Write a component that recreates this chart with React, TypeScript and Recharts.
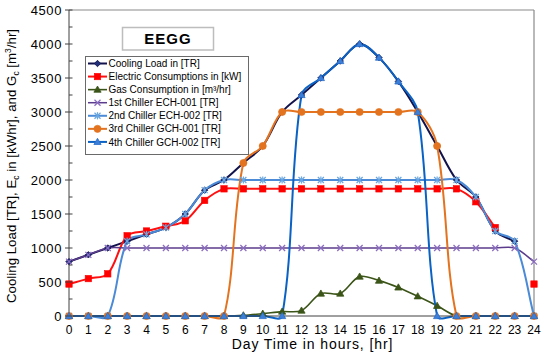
import { LineChart, Line, XAxis, YAxis, ReferenceLine } from 'recharts';

const HOURS = [0, 1, 2, 3, 4, 5, 6, 7, 8, 9, 10, 11, 12, 13, 14, 15, 16, 17, 18, 19, 20, 21, 22, 23, 24];
const COOLING_LOAD = [800, 900, 1000, 1100, 1200, 1300, 1500, 1850, 2000, 2250, 2500, 3000, 3250, 3500, 3750, 4000, 3800, 3450, 3000, 2500, 2000, 1750, 1250, 1100, null];
const ELECTRIC = [470, 550, 620, 1180, 1250, 1320, 1400, 1700, 1870, 1870, 1870, 1870, 1870, 1870, 1870, 1870, 1870, 1870, 1870, 1870, 1870, 1680, 1300, null, 470];
const GAS = [0, 0, 0, 0, 0, 0, 0, 0, 0, 10, 35, 65, 80, 330, 330, 580, 520, 420, 290, 150, 0, 0, 0, 0, 0];
const CHILLER_1 = [800, 900, 1000, 1000, 1000, 1000, 1000, 1000, 1000, 1000, 1000, 1000, 1000, 1000, 1000, 1000, 1000, 1000, 1000, 1000, 1000, 1000, 1000, 1000, 800];
const CHILLER_2 = [0, 0, 0, 1100, 1200, 1300, 1500, 1850, 2000, 2000, 2000, 2000, 2000, 2000, 2000, 2000, 2000, 2000, 2000, 2000, 2000, 1750, 1250, 1100, 0];
const CHILLER_3 = [0, 0, 0, 0, 0, 0, 0, 0, 0, 2250, 2500, 3000, 3000, 3000, 3000, 3000, 3000, 3000, 3000, 2500, 0, 0, 0, 0, 0];
const CHILLER_4 = [0, 0, 0, 0, 0, 0, 0, 0, 0, 0, 0, 0, 3250, 3500, 3750, 4000, 3800, 3450, 3000, 0, 0, 0, 0, 0, 0];
const Y_TICKS = [0, 250, 500, 750, 1000, 1250, 1500, 1750, 2000, 2250, 2500, 2750, 3000, 3250, 3500, 3750, 4000, 4250, 4500];

const data = HOURS.map((hour, i) => ({
  hour,
  cooling: COOLING_LOAD[i],
  electric: ELECTRIC[i],
  gas: GAS[i],
  ch1: CHILLER_1[i],
  ch2: CHILLER_2[i],
  ch3: CHILLER_3[i],
  ch4: CHILLER_4[i],
}));

const FONT = '"Liberation Sans", Arial, sans-serif';

// Excel-like smoothed line: tangent through neighbours, arms scaled by segment length
const excelCurve = (context: any) => {
  let pts: number[][] = [];
  const dist = (a: number[], b: number[]) => Math.hypot(b[0] - a[0], b[1] - a[1]);
  return {
    areaStart() {},
    areaEnd() {},
    lineStart() {
      pts = [];
    },
    point(x: number, y: number) {
      pts.push([+x, +y]);
    },
    lineEnd() {
      const n = pts.length;
      if (!n) return;
      context.moveTo(pts[0][0], pts[0][1]);
      for (let i = 0; i < n - 1; i++) {
        const p0 = pts[i > 0 ? i - 1 : i];
        const p1 = pts[i];
        const p2 = pts[i + 1];
        const p3 = pts[i + 2 < n ? i + 2 : i + 1];
        const l0 = dist(p0, p1);
        const l1 = dist(p1, p2);
        const l2 = dist(p2, p3);
        const a = l0 + l1 > 0 ? l1 / (l0 + l1) / 3 : 0;
        const b = l1 + l2 > 0 ? l1 / (l1 + l2) / 3 : 0;
        context.bezierCurveTo(
          p1[0] + (p2[0] - p0[0]) * a,
          p1[1] + (p2[1] - p0[1]) * a,
          p2[0] - (p3[0] - p1[0]) * b,
          p2[1] - (p3[1] - p1[1]) * b,
          p2[0],
          p2[1]
        );
      }
    },
  };
};

type Shape = 'diamond' | 'square' | 'triangle' | 'x' | 'star' | 'circle';

const drawMarker = (shape: Shape, cx: number, cy: number, color: string, fill: string, key?: string) => {
  switch (shape) {
    case 'diamond':
      return <polygon key={key} points={`${cx},${cy - 3.2} ${cx + 3.2},${cy} ${cx},${cy + 3.2} ${cx - 3.2},${cy}`} fill={fill} stroke={color} strokeWidth={0.8} />;
    case 'square':
      return <rect key={key} x={cx - 3.2} y={cy - 3.2} width={6.4} height={6.4} fill={fill} stroke={color} strokeWidth={0.6} />;
    case 'triangle':
      return <polygon key={key} points={`${cx},${cy - 3.6} ${cx + 3.6},${cy + 2.6} ${cx - 3.6},${cy + 2.6}`} fill={fill} stroke={color} strokeWidth={0.8} />;
    case 'x':
      return (
        <g key={key} stroke={color} strokeWidth={1.2}>
          <line x1={cx - 3} y1={cy - 3} x2={cx + 3} y2={cy + 3} />
          <line x1={cx - 3} y1={cy + 3} x2={cx + 3} y2={cy - 3} />
        </g>
      );
    case 'star':
      return (
        <g key={key} stroke={color} strokeWidth={1.2}>
          <line x1={cx - 3} y1={cy - 3} x2={cx + 3} y2={cy + 3} />
          <line x1={cx - 3} y1={cy + 3} x2={cx + 3} y2={cy - 3} />
          <line x1={cx} y1={cy - 3.6} x2={cx} y2={cy + 3.6} />
        </g>
      );
    default:
      return <circle key={key} cx={cx} cy={cy} r={3.6} fill={fill} stroke={color} strokeWidth={0.6} />;
  }
};

const SERIES: { key: string; name: string; color: string; marker: string; fill: string; shape: Shape; width: number }[] = [
  { key: 'cooling', name: 'Cooling Load in [TR]', color: '#12124c', marker: '#12124c', fill: '#1f2f7a', shape: 'diamond', width: 2 },
  { key: 'electric', name: 'Electric Consumptions in [kW]', color: '#ff1010', marker: '#ff0000', fill: '#ff0000', shape: 'square', width: 2 },
  { key: 'gas', name: 'Gas Consumption in [m³/hr]', color: '#3b5418', marker: '#3b5418', fill: '#3b5418', shape: 'triangle', width: 1.6 },
  { key: 'ch1', name: '1st Chiller ECH-001 [TR]', color: '#5b3c8c', marker: '#8a6cc0', fill: '#8a6cc0', shape: 'x', width: 1.5 },
  { key: 'ch2', name: '2nd Chiller ECH-002 [TR]', color: '#4a8ad6', marker: '#6aa6e0', fill: '#6aa6e0', shape: 'star', width: 2 },
  { key: 'ch3', name: '3rd Chiller GCH-001 [TR]', color: '#e3731f', marker: '#e3731f', fill: '#e3731f', shape: 'circle', width: 2 },
  { key: 'ch4', name: '4th Chiller GCH-002 [TR]', color: '#0a62c4', marker: '#2a6cc8', fill: '#3b7fd8', shape: 'triangle', width: 2 },
];

const makeDot = (s: (typeof SERIES)[number]) => (props: any) => {
  const { cx, cy, index } = props;
  if (!Number.isFinite(cx) || !Number.isFinite(cy) || props.value == null) return <g key={`${s.key}-${index}`} />;
  return drawMarker(s.shape, cx, cy, s.marker, s.fill, `${s.key}-${index}`);
};

const YTick = (props: any) => {
  const { x, y, payload } = props;
  const axisX = x + 7;
  const major = payload.value % 500 === 0;
  return (
    <g>
      <line x1={major ? axisX - 4 : axisX} x2={axisX + 3.5} y1={y} y2={y} stroke="#404040" strokeWidth={1} />
      {major && (
        <text x={x} y={y} dy="0.355em" textAnchor="end" fontSize={13} fill="#000" fontFamily={FONT} letterSpacing={0.6}>
          {payload.value}
        </text>
      )}
    </g>
  );
};

const YLabel = (props: any) => {
  const vb = props.viewBox || { x: 29, y: 10, width: 40, height: 306 };
  const cx = vb.x - 13;
  const cy = vb.y + vb.height / 2 + 3;
  return (
    <text x={cx} y={cy} transform={`rotate(-90, ${cx}, ${cy})`} textAnchor="middle" fontSize={13.3} fontFamily={FONT} fill="#000">
      Cooling Load [TR], E
      <tspan fontSize={8.5} dy={3}>c</tspan>
      <tspan dy={-3}> in [kWhr], and G</tspan>
      <tspan fontSize={8.5} dy={3}>c</tspan>
      <tspan dy={-3}> [m</tspan>
      <tspan fontSize={8.5} dy={-5}>3</tspan>
      <tspan dy={5}>/hr]</tspan>
    </text>
  );
};

const XLabel = (props: any) => {
  const vb = props.viewBox || { x: 69, y: 316, width: 465, height: 30 };
  return (
    <text x={vb.x + vb.width / 2 + 11} y={vb.y + 33} textAnchor="middle" fontSize={14} fontFamily={FONT} fill="#000" letterSpacing={0.9}>
      Day Time in hours, [hr]
    </text>
  );
};

const LegendOverlay = () => (
  <svg width={547} height={358} style={{ position: 'absolute', left: 0, top: 0, pointerEvents: 'none' }}>
    <rect x={122.5} y={27.5} width={91} height={22.5} fill="#fff" stroke="#bdbdbd" strokeWidth={1.5} />
    <text x={168} y={39} dy="0.36em" textAnchor="middle" fontSize={15} fontWeight="bold" fontFamily={FONT} letterSpacing={1}>
      EEGG
    </text>
    <rect x={85.5} y={56.5} width={163} height={98} fill="#fff" stroke="#6a6a6a" strokeWidth={1} />
    {SERIES.map((s, i) => {
      const cy = 63.5 + i * 13.07;
      return (
        <g key={s.key}>
          <line x1={88} x2={107} y1={cy} y2={cy} stroke={s.color} strokeWidth={s.width} />
          {drawMarker(s.shape, 97.5, cy, s.marker, s.fill)}
          <text x={108.5} y={cy} dy="0.36em" fontSize={10} fontFamily={FONT} fill="#000">
            {s.name}
          </text>
        </g>
      );
    })}
  </svg>
);

export default function App() {
  return (
    <div style={{ position: 'absolute', left: 0, top: 0, width: 547, height: 358, background: '#fff' }}>
      <LineChart width={547} height={358} data={data} margin={{ top: 10, right: 13, bottom: 12, left: 29 }}>
        <XAxis
          dataKey="hour"
          type="number"
          domain={[0, 24]}
          ticks={HOURS}
          interval={0}
          height={30}
          tickLine={false}
          tickSize={0}
          tickMargin={9}
          axisLine={{ stroke: '#404040' }}
          tick={{ fontSize: 12, fill: '#000', fontFamily: FONT }}
          label={<XLabel />}
        />
        <YAxis
          type="number"
          domain={[0, 4500]}
          ticks={Y_TICKS}
          interval={0}
          width={40}
          tickLine={false}
          tickSize={0}
          tickMargin={7}
          axisLine={{ stroke: '#404040' }}
          tick={<YTick />}
          label={<YLabel />}
        />
        <ReferenceLine y={4500} stroke="#8a8a8a" strokeWidth={1.2} />
        <ReferenceLine x={24} stroke="#8a8a8a" strokeWidth={1.2} />
        {SERIES.map((s) => (
          <Line
            key={s.key}
            dataKey={s.key}
            name={s.name}
            type={excelCurve as any}
            stroke={s.color}
            strokeWidth={s.width}
            dot={makeDot(s)}
            activeDot={false}
            isAnimationActive={false}
          />
        ))}
      </LineChart>
      <LegendOverlay />
    </div>
  );
}
